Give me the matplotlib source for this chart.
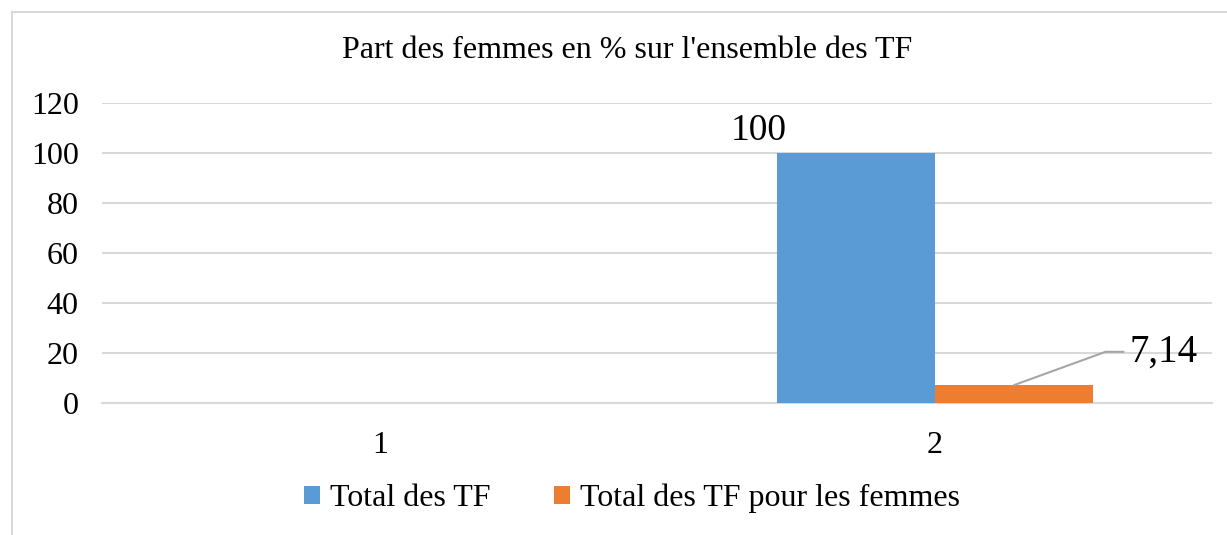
import matplotlib.pyplot as plt
import matplotlib.lines as mlines
import numpy as np

plt.rcParams['font.family'] = ['Liberation Serif', 'DejaVu Serif']

categories = ['1', '2']
total_tf = [np.nan, 100]
total_tf_femmes = [np.nan, 7.14]
series_names = ['Total des TF', 'Total des TF pour les femmes']
colors = ['#5b9bd5', '#ed7d31']
grid_color = '#d9d9d9'

fig = plt.figure(figsize=(12.27, 5.35), dpi=100)
ax = fig.add_axes([0.0835, 0.2467, 0.9045, 0.5608])

x = np.arange(len(categories))
w = 0.285
b1 = ax.bar(x - w / 2, total_tf, w, color=colors[0], label=series_names[0], zorder=3)
b2 = ax.bar(x + w / 2, total_tf_femmes, w, color=colors[1], label=series_names[1], zorder=3)

ax.set_xlim(-0.5, 1.5)
ax.set_ylim(0, 120)
ax.set_yticks(np.arange(0, 121, 20))
ax.set_xticks(x)
ax.set_xticklabels(categories)
ax.grid(axis='y', color=grid_color, linewidth=1.5, zorder=0)
for s in ['top', 'right', 'left']:
    ax.spines[s].set_visible(False)
ax.spines['bottom'].set_color(grid_color)
ax.spines['bottom'].set_linewidth(1.5)
ax.tick_params(axis='both', length=0, labelsize=23)
ax.tick_params(axis='y', pad=17)
ax.tick_params(axis='x', pad=20)

# data labels
i = 1
ax.annotate(f'{total_tf[i]:g}'.replace('.', ','), xy=(x[i] - w / 2, total_tf[i]), xytext=(-70, 16),
            textcoords='offset points', ha='center', va='center', fontsize=27)
ax.annotate(f'{total_tf_femmes[i]:.2f}'.replace('.', ','), xy=(x[i] + w / 2, total_tf_femmes[i]),
            xytext=(83, 24), textcoords='offset points', ha='left', va='center', fontsize=28,
            arrowprops=dict(arrowstyle='-', color='#a6a6a6', lw=1.5,
                            connectionstyle='angle,angleA=0,angleB=20,rad=0',
                            shrinkA=2, shrinkB=0))

fig.text(0.511, 0.905, "Part des femmes en % sur l'ensemble des TF", ha='center', va='center', fontsize=23)

leg = fig.legend(loc='center', bbox_to_anchor=(0.515, 0.068), ncol=2, frameon=False, fontsize=23,
                 handlelength=0.5, handleheight=0.5, handletextpad=0.3, columnspacing=2.0)

# outer chart border
fig.add_artist(mlines.Line2D([12 / 1227, 1], [1 - 12 / 535, 1 - 12 / 535], color=grid_color, lw=1.5))
fig.add_artist(mlines.Line2D([12 / 1227, 12 / 1227], [0, 1 - 12 / 535], color=grid_color, lw=1.5))

fig.savefig('out.png', dpi=100)
